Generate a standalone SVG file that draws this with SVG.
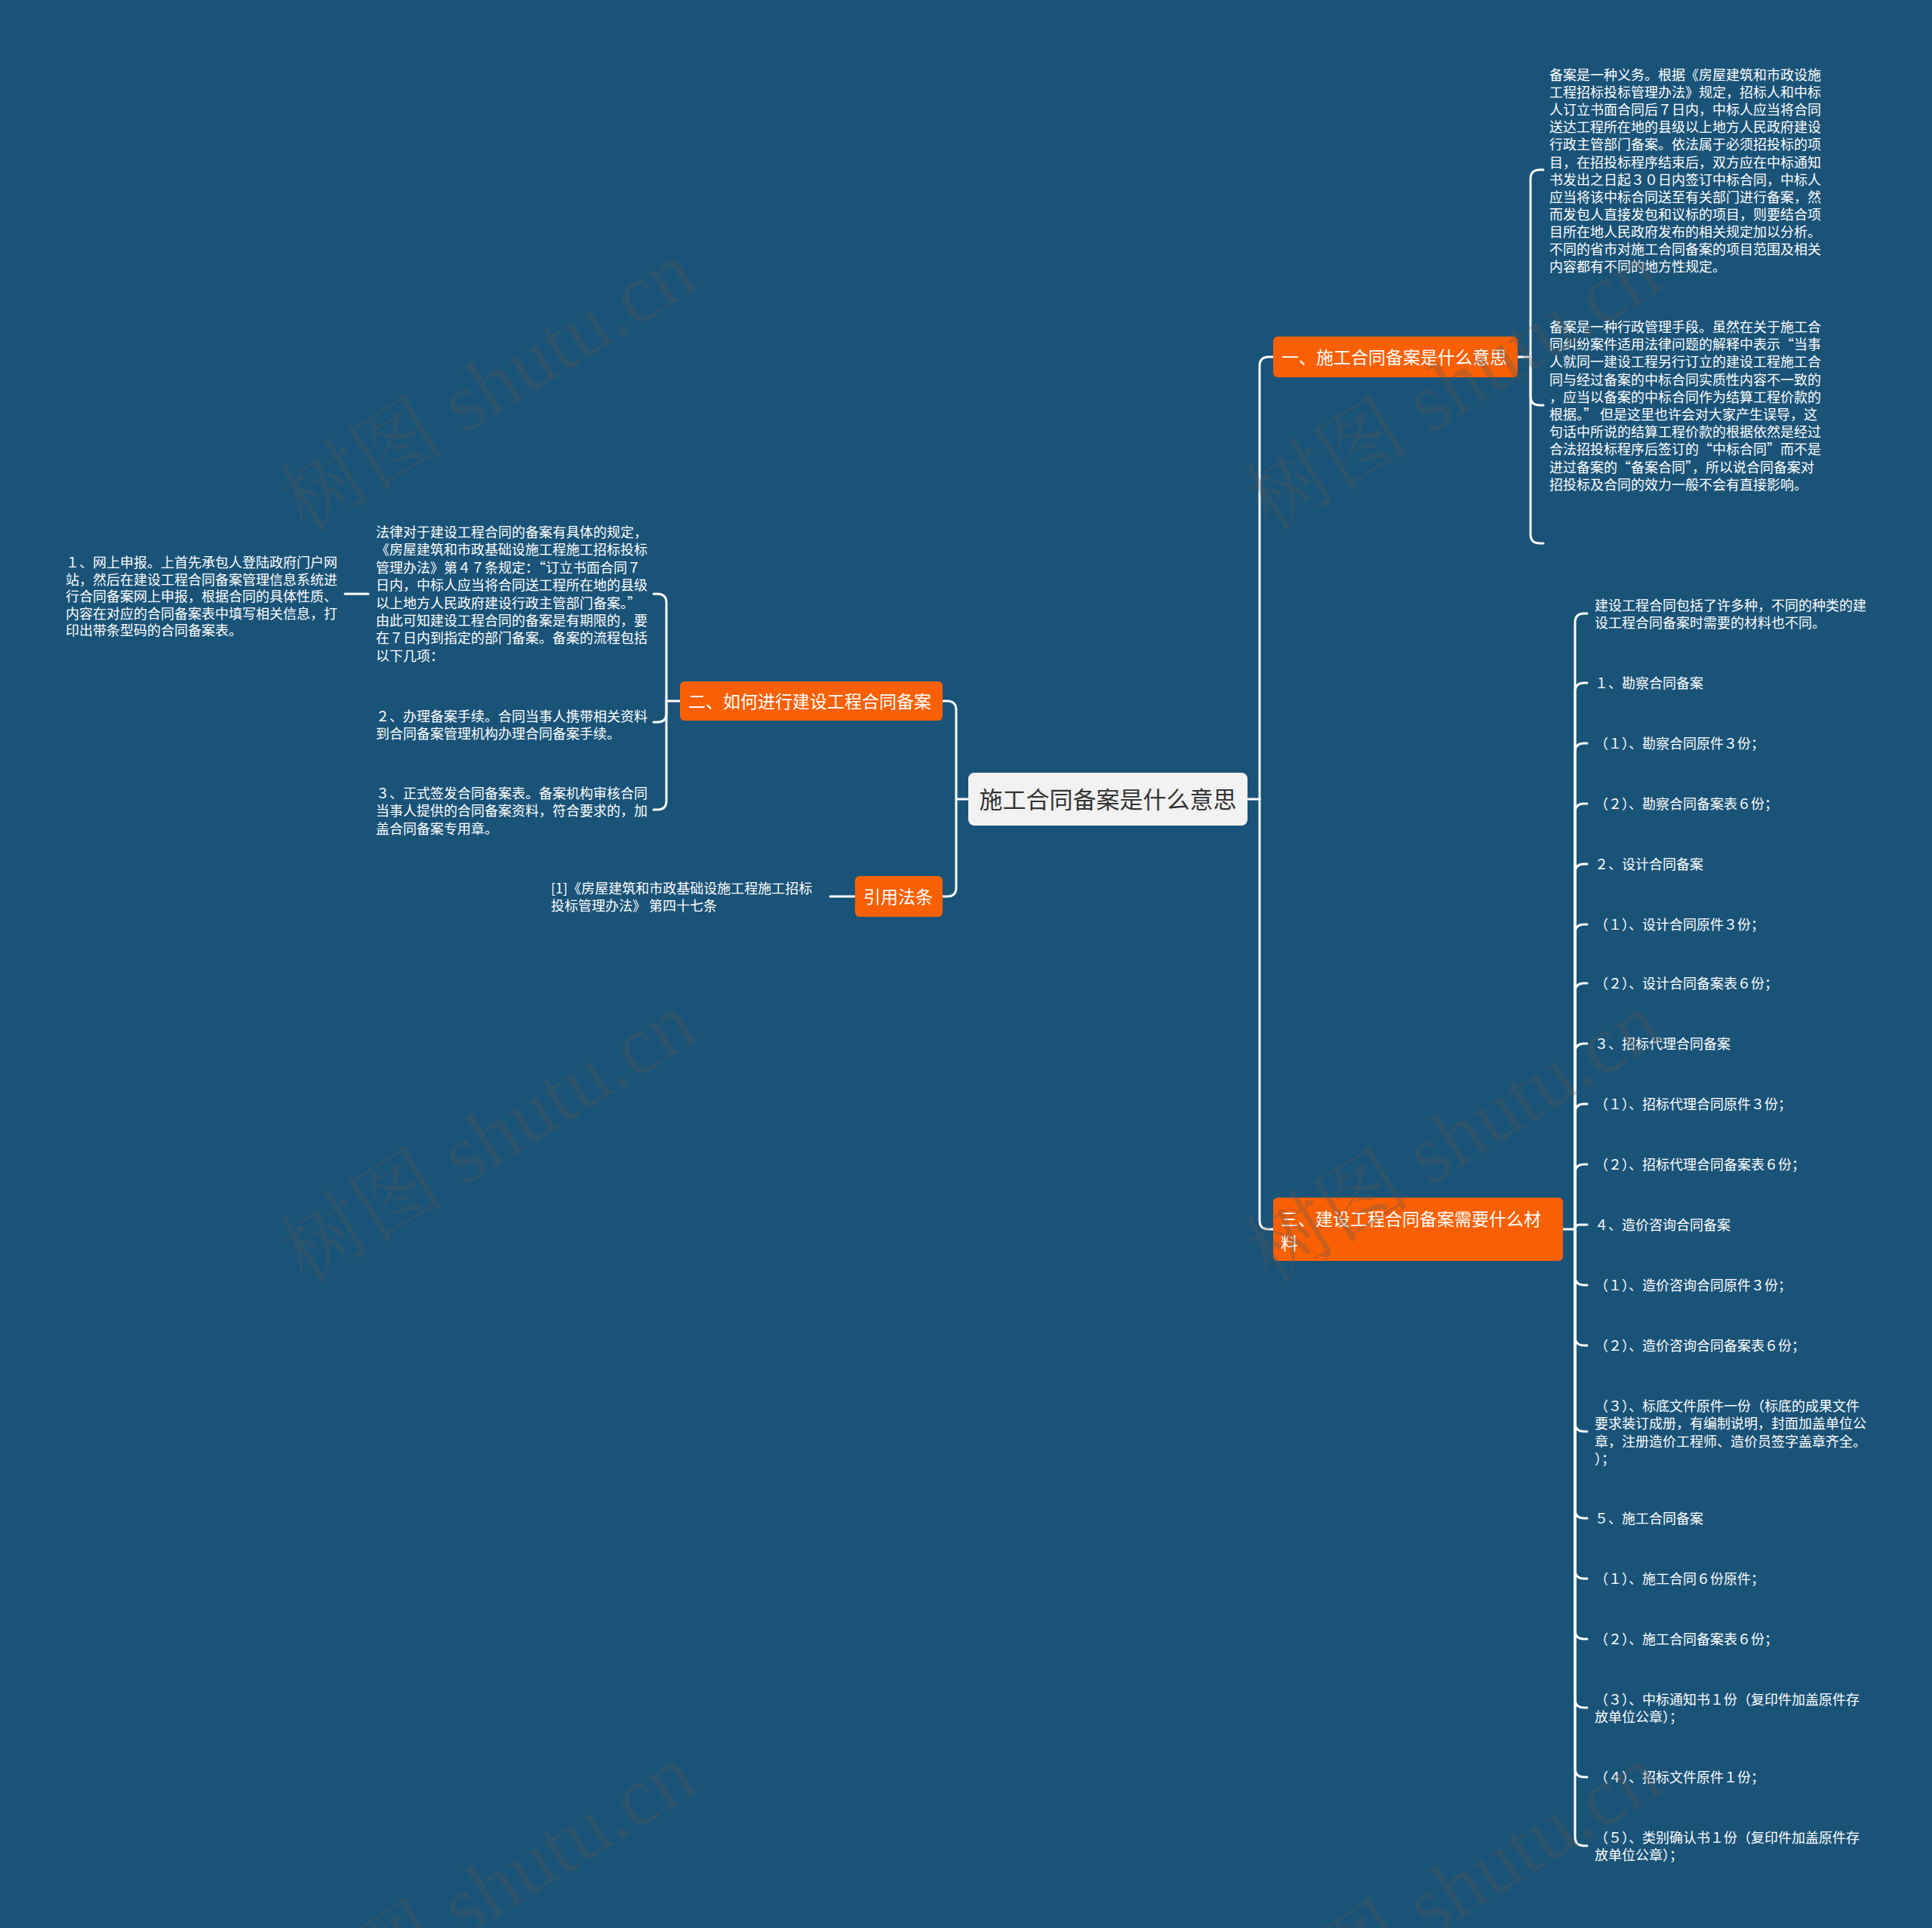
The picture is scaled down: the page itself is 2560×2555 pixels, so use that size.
<svg xmlns="http://www.w3.org/2000/svg" width="2560" height="2555" viewBox="0 0 2560 2555">
<defs>
<style>
.conn{fill:none;stroke:#ffffff;stroke-width:3;stroke-linecap:round}
.orange{fill:#f96005}
.center{fill:#f2f2f2}
.tc{font-family:'Noto Sans CJK SC','Noto Sans',sans-serif;font-size:31px;fill:#333333}
.tb{font-family:'Noto Sans CJK SC','Noto Sans',sans-serif;font-size:23px;fill:#ffffff}
.tl{font-family:'Noto Sans CJK SC','Noto Sans',sans-serif;font-size:18px;fill:#ffffff}
.wm{font-family:'Liberation Serif','Noto Serif CJK SC','Noto Sans CJK SC',serif;font-size:110px;fill:#555555;fill-opacity:0.3}
</style>
</defs>
<rect x="0" y="0" width="2560" height="2555" fill="#1a5378"/>

<g id="connectors">
<path class="conn" d="M1653,1059 H1669"/>
<path class="conn" d="M1669,1059 V485 Q1669,473 1681,473 H1687"/>
<path class="conn" d="M1669,1059 V1617 Q1669,1629 1681,1629 H1687"/>
<path class="conn" d="M1283,1059 H1267"/>
<path class="conn" d="M1267,1059 V941 Q1267,929 1255,929 H1249"/>
<path class="conn" d="M1267,1059 V1176 Q1267,1188 1255,1188 H1249"/>
<path class="conn" d="M2011,473 H2028"/>
<path class="conn" d="M2028,473 V237 Q2028,225 2040,225 H2045"/>
<path class="conn" d="M2028,473 V525 Q2028,537 2040,537 H2045"/>
<path class="conn" d="M2028,473 V708 Q2028,720 2040,720 H2045"/>
<path class="conn" d="M901,929 H883"/>
<path class="conn" d="M883,929 V799 Q883,787 871,787 H866"/>
<path class="conn" d="M883,929 V945 Q883,957 871,957 H866"/>
<path class="conn" d="M883,929 V1061 Q883,1073 871,1073 H866"/>
<path class="conn" d="M488,787 H457"/>
<path class="conn" d="M1133,1188 H1100"/>
<path class="conn" d="M2071,1629 H2087"/>
<path class="conn" d="M2087,1629 V825 Q2087,813 2099,813 H2103"/>
<path class="conn" d="M2087,1629 V917 Q2087,905 2099,905 H2103"/>
<path class="conn" d="M2087,1629 V997 Q2087,985 2099,985 H2103"/>
<path class="conn" d="M2087,1629 V1077 Q2087,1065 2099,1065 H2103"/>
<path class="conn" d="M2087,1629 V1157 Q2087,1145 2099,1145 H2103"/>
<path class="conn" d="M2087,1629 V1237 Q2087,1225 2099,1225 H2103"/>
<path class="conn" d="M2087,1629 V1315 Q2087,1303 2099,1303 H2103"/>
<path class="conn" d="M2087,1629 V1395 Q2087,1383 2099,1383 H2103"/>
<path class="conn" d="M2087,1629 V1475 Q2087,1463 2099,1463 H2103"/>
<path class="conn" d="M2087,1629 V1555 Q2087,1543 2099,1543 H2103"/>
<path class="conn" d="M2087,1629 Q2087,1623 2093,1623 H2103"/>
<path class="conn" d="M2087,1629 V1691 Q2087,1703 2099,1703 H2103"/>
<path class="conn" d="M2087,1629 V1771 Q2087,1783 2099,1783 H2103"/>
<path class="conn" d="M2087,1629 V1885 Q2087,1897 2099,1897 H2103"/>
<path class="conn" d="M2087,1629 V2000 Q2087,2012 2099,2012 H2103"/>
<path class="conn" d="M2087,1629 V2080 Q2087,2092 2099,2092 H2103"/>
<path class="conn" d="M2087,1629 V2160 Q2087,2172 2099,2172 H2103"/>
<path class="conn" d="M2087,1629 V2251 Q2087,2263 2099,2263 H2103"/>
<path class="conn" d="M2087,1629 V2343 Q2087,2355 2099,2355 H2103"/>
<path class="conn" d="M2087,1629 V2434 Q2087,2446 2099,2446 H2103"/>
</g>

<g id="root">
<rect class="center" x="1283" y="1024" width="370" height="70" rx="8"/>
<text class="tc" x="1468" y="1071" text-anchor="middle">施工合同备案是什么意思</text>
</g>

<g id="b1">
<rect class="orange" x="1687" y="446" width="324" height="54" rx="6"/>
<text class="tb" x="1698" y="482">一、施工合同备案是什么意思</text>
</g>
<g id="b1-c1">
<text class="tl" x="2053" y="106">
<tspan x="2053">备案是一种义务。根据《房屋建筑和市政设施</tspan>
<tspan x="2053" dy="23.1">工程招标投标管理办法》规定，招标人和中标</tspan>
<tspan x="2053" dy="23.1">人订立书面合同后７日内，中标人应当将合同</tspan>
<tspan x="2053" dy="23.1">送达工程所在地的县级以上地方人民政府建设</tspan>
<tspan x="2053" dy="23.1">行政主管部门备案。依法属于必须招投标的项</tspan>
<tspan x="2053" dy="23.1">目，在招投标程序结束后，双方应在中标通知</tspan>
<tspan x="2053" dy="23.1">书发出之日起３０日内签订中标合同，中标人</tspan>
<tspan x="2053" dy="23.1">应当将该中标合同送至有关部门进行备案，然</tspan>
<tspan x="2053" dy="23.1">而发包人直接发包和议标的项目，则要结合项</tspan>
<tspan x="2053" dy="23.1">目所在地人民政府发布的相关规定加以分析。</tspan>
<tspan x="2053" dy="23.1">不同的省市对施工合同备案的项目范围及相关</tspan>
<tspan x="2053" dy="23.1">内容都有不同的地方性规定。</tspan>
</text>
</g>
<g id="b1-c2">
<text class="tl" x="2053" y="440">
<tspan x="2053">备案是一种行政管理手段。虽然在关于施工合</tspan>
<tspan x="2053" dy="23.2">同纠纷案件适用法律问题的解释中表示“当事</tspan>
<tspan x="2053" dy="23.2">人就同一建设工程另行订立的建设工程施工合</tspan>
<tspan x="2053" dy="23.2">同与经过备案的中标合同实质性内容不一致的</tspan>
<tspan x="2053" dy="23.2">，应当以备案的中标合同作为结算工程价款的</tspan>
<tspan x="2053" dy="23.2">根据。” 但是这里也许会对大家产生误导，这</tspan>
<tspan x="2053" dy="23.2">句话中所说的结算工程价款的根据依然是经过</tspan>
<tspan x="2053" dy="23.2">合法招投标程序后签订的“中标合同”而不是</tspan>
<tspan x="2053" dy="23.2">进过备案的“备案合同”，所以说合同备案对</tspan>
<tspan x="2053" dy="23.2">招投标及合同的效力一般不会有直接影响。</tspan>
</text>
</g>

<g id="b2">
<rect class="orange" x="901" y="903" width="348" height="52" rx="6"/>
<text class="tb" x="912" y="938">二、如何进行建设工程合同备案</text>
</g>
<g id="b2-c1">
<text class="tl" x="498" y="712">
<tspan x="498">法律对于建设工程合同的备案有具体的规定，</tspan>
<tspan x="498" dy="23.4">《房屋建筑和市政基础设施工程施工招标投标</tspan>
<tspan x="498" dy="23.4">管理办法》第４７条规定：“订立书面合同７</tspan>
<tspan x="498" dy="23.4">日内，中标人应当将合同送工程所在地的县级</tspan>
<tspan x="498" dy="23.4">以上地方人民政府建设行政主管部门备案。”</tspan>
<tspan x="498" dy="23.4">由此可知建设工程合同的备案是有期限的，要</tspan>
<tspan x="498" dy="23.4">在７日内到指定的部门备案。备案的流程包括</tspan>
<tspan x="498" dy="23.4">以下几项：</tspan>
</text>
</g>
<g id="b2-c1-1">
<text class="tl" x="87" y="752">
<tspan x="87">１、网上申报。上首先承包人登陆政府门户网</tspan>
<tspan x="87" dy="22.5">站，然后在建设工程合同备案管理信息系统进</tspan>
<tspan x="87" dy="22.5">行合同备案网上申报，根据合同的具体性质、</tspan>
<tspan x="87" dy="22.5">内容在对应的合同备案表中填写相关信息，打</tspan>
<tspan x="87" dy="22.5">印出带条型码的合同备案表。</tspan>
</text>
</g>
<g id="b2-c2">
<text class="tl" x="498" y="956">
<tspan x="498">２、办理备案手续。合同当事人携带相关资料</tspan>
<tspan x="498" dy="23.4">到合同备案管理机构办理合同备案手续。</tspan>
</text>
</g>
<g id="b2-c3">
<text class="tl" x="498" y="1058">
<tspan x="498">３、正式签发合同备案表。备案机构审核合同</tspan>
<tspan x="498" dy="23.3">当事人提供的合同备案资料，符合要求的，加</tspan>
<tspan x="498" dy="23.3">盖合同备案专用章。</tspan>
</text>
</g>

<g id="ref">
<rect class="orange" x="1133" y="1161" width="116" height="54" rx="6"/>
<text class="tb" x="1144" y="1197">引用法条</text>
</g>
<g id="ref-c1">
<text class="tl" x="730" y="1184">
<tspan x="730">[1]《房屋建筑和市政基础设施工程施工招标</tspan>
<tspan x="730" dy="23">投标管理办法》 第四十七条</tspan>
</text>
</g>

<g id="b3">
<rect class="orange" x="1687" y="1587" width="384" height="84" rx="6"/>
<text class="tb" x="1697" y="1624">
<tspan x="1697">三、建设工程合同备案需要什么材</tspan>
<tspan x="1697" dy="32">料</tspan>
</text>
</g>
<g id="b3-items">
<text class="tl" x="2113" y="809"><tspan x="2113">建设工程合同包括了许多种，不同的种类的建</tspan><tspan x="2113" dy="23">设工程合同备案时需要的材料也不同。</tspan></text>
<text class="tl" x="2113" y="912">１、勘察合同备案</text>
<text class="tl" x="2113" y="992">（１）、勘察合同原件３份；</text>
<text class="tl" x="2113" y="1072">（２）、勘察合同备案表６份；</text>
<text class="tl" x="2113" y="1152">２、设计合同备案</text>
<text class="tl" x="2113" y="1232">（１）、设计合同原件３份；</text>
<text class="tl" x="2113" y="1310">（２）、设计合同备案表６份；</text>
<text class="tl" x="2113" y="1390">３、招标代理合同备案</text>
<text class="tl" x="2113" y="1470">（１）、招标代理合同原件３份；</text>
<text class="tl" x="2113" y="1550">（２）、招标代理合同备案表６份；</text>
<text class="tl" x="2113" y="1630">４、造价咨询合同备案</text>
<text class="tl" x="2113" y="1710">（１）、造价咨询合同原件３份；</text>
<text class="tl" x="2113" y="1790">（２）、造价咨询合同备案表６份；</text>
<text class="tl" x="2113" y="1870"><tspan x="2113">（３）、标底文件原件一份（标底的成果文件</tspan><tspan x="2113" dy="23.3">要求装订成册，有编制说明，封面加盖单位公</tspan><tspan x="2113" dy="23.3">章，注册造价工程师、造价员签字盖章齐全。</tspan><tspan x="2113" dy="23.3">）；</tspan></text>
<text class="tl" x="2113" y="2019">５、施工合同备案</text>
<text class="tl" x="2113" y="2099">（１）、施工合同６份原件；</text>
<text class="tl" x="2113" y="2179">（２）、施工合同备案表６份；</text>
<text class="tl" x="2113" y="2259"><tspan x="2113">（３）、中标通知书１份（复印件加盖原件存</tspan><tspan x="2113" dy="23">放单位公章）；</tspan></text>
<text class="tl" x="2113" y="2362">（４）、招标文件原件１份；</text>
<text class="tl" x="2113" y="2442"><tspan x="2113">（５）、类别确认书１份（复印件加盖原件存</tspan><tspan x="2113" dy="23">放单位公章）；</tspan></text>
</g>

<g id="watermarks">
<text class="wm" text-anchor="middle" transform="translate(648,514) rotate(-32)" y="35">树图 shutu.cn</text>
<text class="wm" text-anchor="middle" transform="translate(1927,514) rotate(-32)" y="35">树图 shutu.cn</text>
<text class="wm" text-anchor="middle" transform="translate(648,1510) rotate(-32)" y="35">树图 shutu.cn</text>
<text class="wm" text-anchor="middle" transform="translate(1927,1510) rotate(-32)" y="35">树图 shutu.cn</text>
<text class="wm" text-anchor="middle" transform="translate(648,2506) rotate(-32)" y="35">树图 shutu.cn</text>
<text class="wm" text-anchor="middle" transform="translate(1927,2506) rotate(-32)" y="35">树图 shutu.cn</text>
</g>
</svg>
